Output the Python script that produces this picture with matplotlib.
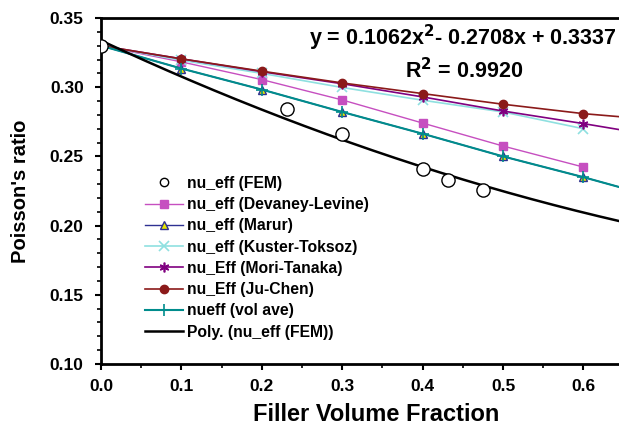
import numpy as np
import matplotlib
matplotlib.use("Agg")
import matplotlib.pyplot as plt
from matplotlib.ticker import MultipleLocator, FormatStrFormatter

plt.rcParams['font.family'] = ['Liberation Sans', 'DejaVu Sans']
plt.rcParams['font.weight'] = 'bold'
plt.rcParams['mathtext.default'] = 'bf'

# data
vf = [0.0, 0.1, 0.2, 0.3, 0.4, 0.5, 0.6]
vf_ext = [0.0, 0.1, 0.2, 0.3, 0.4, 0.5, 0.6, 0.7]

fem_x = [0.0, 0.231, 0.300, 0.401, 0.431, 0.475]
fem_y = [0.330, 0.2845, 0.266, 0.241, 0.233, 0.226]

devaney_levine = [0.330, 0.3183, 0.3055, 0.2908, 0.2741, 0.2575, 0.2423]
marur = [0.330, 0.3135, 0.2983, 0.2821, 0.2664, 0.2500, 0.2350, 0.2190]
kuster_toksoz = [0.330, 0.3195, 0.3100, 0.2998, 0.2906, 0.2821, 0.2700]
mori_tanaka = [0.330, 0.3205, 0.3112, 0.3025, 0.2930, 0.2828, 0.2737, 0.2640]
ju_chen = [0.330, 0.3205, 0.3116, 0.3031, 0.2954, 0.2877, 0.2809, 0.2760]
vol_ave = [0.330, 0.3135, 0.2983, 0.2821, 0.2664, 0.2500, 0.2350, 0.2190]

poly_coef = [0.1062, -0.2708, 0.3337]  # trendline shown on the chart
poly_x = np.linspace(0, 0.7, 200)

fig = plt.figure(figsize=(6.19, 4.28), dpi=100)
ax = fig.add_axes([0.1632, 0.1495, 0.8443, 0.8084])

ax.plot(fem_x, fem_y, 'o', mfc='white', mec='black', ms=9.5, mew=1.0,
        ls='none', label='nu_eff (FEM)', zorder=6)
ax.plot(vf, devaney_levine, '-s', color='#C64FC0', ms=5.5, lw=1,
        label='nu_eff (Devaney-Levine)')
ax.plot(vf_ext, marur, '-^', color='#2E3192', mfc='#E6E600', mec='#2E3192',
        ms=6, lw=1, label='nu_eff (Marur)')
ax.plot(vf, kuster_toksoz, '-x', color='#8FE0E0', ms=6.5, mew=1.2, lw=1.2,
        label='nu_eff (Kuster-Toksoz)')
ax.plot(vf_ext, mori_tanaka, '-', marker=(6, 2, 0), color='#800080', ms=7,
        mew=1.2, lw=1.2, label='nu_Eff (Mori-Tanaka)')
ax.plot(vf_ext, ju_chen, '-o', color='#8B1A1A', ms=6, lw=1.2,
        label='nu_Eff (Ju-Chen)')
ax.plot(vf_ext, vol_ave, '-+', color='#008C8C', ms=8, mew=1.2, lw=1.5,
        label='nueff (vol ave)')
ax.plot(poly_x, np.polyval(poly_coef, poly_x), '-', color='black', lw=1.8,
        label='Poly. (nu_eff (FEM))')

ax.set_xlim(0, 0.65)
ax.set_ylim(0.10, 0.35)
ax.xaxis.set_major_locator(MultipleLocator(0.1))
ax.xaxis.set_minor_locator(MultipleLocator(0.05))
ax.yaxis.set_major_locator(MultipleLocator(0.05))
ax.yaxis.set_minor_locator(MultipleLocator(0.01))
ax.xaxis.set_major_formatter(FormatStrFormatter('%.1f'))
ax.yaxis.set_major_formatter(FormatStrFormatter('%.2f'))
ax.tick_params(which='major', direction='out', length=4.5, width=1.5,
               labelsize=12.5)
ax.tick_params(axis='x', which='major', pad=6)
ax.tick_params(axis='y', which='major', pad=8)
ax.tick_params(which='minor', direction='out', length=3, width=1.2)
for t in ax.get_xticklabels() + ax.get_yticklabels():
    t.set_fontweight('bold')

ax.spines['right'].set_visible(False)
for s in ['left', 'bottom', 'top']:
    ax.spines[s].set_linewidth(2)

ax.set_xlabel('Filler Volume Fraction', fontsize=17, fontweight='bold')
ax.set_ylabel("Poisson's ratio", fontsize=14.5, fontweight='bold')
ax.xaxis.set_label_coords(0.526, -0.112)
ax.yaxis.set_label_coords(-0.135, 0.5)

fig.text(0.748, 0.911, 'y = 0.1062x$^{2}$- 0.2708x + 0.3337',
         ha='center', va='center', fontsize=15.5, fontweight='bold')
fig.text(0.75, 0.836, 'R$^{2}$ = 0.9920', ha='center', va='center',
         fontsize=15.5, fontweight='bold')

leg = ax.legend(loc='upper left', bbox_to_anchor=(0.084, 0.544), frameon=False,
                prop={'size': 11.3, 'weight': 'bold'}, handlelength=2.4,
                labelspacing=0.4, handletextpad=0.3, borderaxespad=0,
                borderpad=0)
leg.legend_handles[0].set_markersize(6)

fig.savefig('out.png', dpi=100)
